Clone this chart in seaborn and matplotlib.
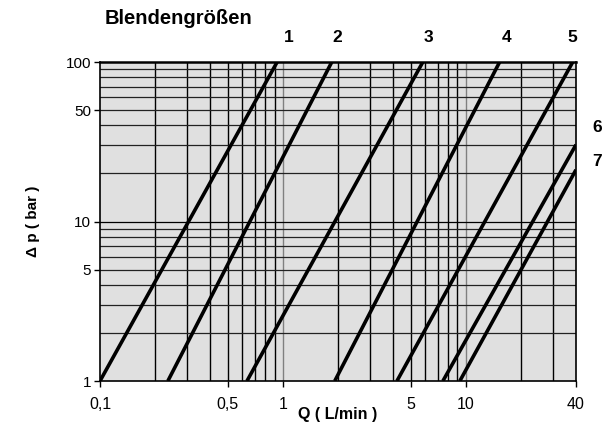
import pandas as pd
import numpy as np
import matplotlib.pyplot as plt
import seaborn as sns

# --- Data: each orifice line as start/end points ---
blenden = ['1', '2', '3', '4', '5', '6', '7']
q_low = [0.1, 0.235, 0.636, 1.92, 4.2, 7.49, 9.27]
q_high = [0.93, 1.85, 5.82, 15.3, 38.4, 40, 40]
dp_low = [1, 1, 1, 1, 1, 1, 1]
dp_high = [100, 100, 100, 100, 100, 30.3, 21.1]

x_ticks = [0.1, 0.5, 1, 5, 10, 40]
x_ticklabels = ['0,1', '0,5', '1', '5', '10', '40']
y_ticks = [1, 5, 10, 50, 100]
y_ticklabels = ['1', '5', '10', '50', '100']

rows = []
for b, q0, q1, p0, p1 in zip(blenden, q_low, q_high, dp_low, dp_high):
    rows.append({'Blende': b, 'Q': q0, 'dp': p0})
    rows.append({'Blende': b, 'Q': q1, 'dp': p1})
df = pd.DataFrame(rows)

sns.set_style('white')
plt.rcParams['font.family'] = ['Liberation Sans', 'DejaVu Sans']
plt.rcParams['text.color'] = 'black'
plt.rcParams['axes.labelcolor'] = 'black'
plt.rcParams['xtick.color'] = 'black'
plt.rcParams['ytick.color'] = 'black'

fig = plt.figure(figsize=(6.03, 4.25), dpi=100)
ax = fig.add_axes([0.1658, 0.1035, 0.7894, 0.7506])
ax.set_facecolor('#e0e0e0')
ax.set_xscale('log')
ax.set_yscale('log')
ax.set_xlim(0.1, 40)
ax.set_ylim(1, 100)

# grid lines (decades in x drawn lighter, as in the original)
for dec in [0.1, 1, 10]:
    for m in range(2, 10):
        v = dec * m
        if v < 40:
            ax.axvline(v, color='black', lw=1.0, zorder=1)
for v in [1, 10]:
    ax.axvline(v, color='#808080', lw=1.0, zorder=1)
for dec in [1, 10]:
    for m in range(2, 10):
        ax.axhline(dec * m, color='#222222', lw=0.9, zorder=1)
ax.axhline(10, color='black', lw=0.9, zorder=1)

sns.lineplot(data=df, x='Q', y='dp', hue='Blende', units='Blende', estimator=None,
             palette=['black'] * len(blenden), lw=2.6, legend=False, ax=ax, zorder=3,
             solid_capstyle='butt')

ax.minorticks_off()
ax.set_xticks(x_ticks)
ax.set_xticklabels(x_ticklabels, fontsize=11.5)
ax.set_yticks(y_ticks)
ax.set_yticklabels(y_ticklabels, fontsize=11)
ax.tick_params(axis='both', which='major', direction='out', length=4.5, width=1,
               color='black', bottom=True, left=True)
ax.tick_params(axis='x', pad=7)
ax.tick_params(axis='y', pad=2)

for s in ax.spines.values():
    s.set_color('black')
    s.set_linewidth(1.2)
ax.spines['top'].set_linewidth(1.8)

ax.set_xlabel('Q ( L/min )', fontsize=11.5, fontweight='bold', va='center')
ax.xaxis.set_label_coords(0.5, -0.105)
ax.set_ylabel('Δ p ( bar )', fontsize=11, fontweight='bold', va='center')
ax.yaxis.set_label_coords(-0.141, 0.5)

# labels
fig.text(105 / 603, 1 - 18 / 425, 'Blendengrößen', fontsize=14.5, fontweight='bold',
         ha='left', va='center')
top_lbl_x = [289, 337, 428, 507, 572]
for b, px in zip(blenden[:5], top_lbl_x):
    fig.text(px / 603, 1 - 38 / 425, b, fontsize=12.5, fontweight='bold',
             ha='center', va='center')
for b, py in zip(blenden[5:], [127, 162]):
    fig.text(597 / 603, 1 - py / 425, b, fontsize=12.5, fontweight='bold',
             ha='center', va='center')

plt.savefig('out.png', dpi=100)
